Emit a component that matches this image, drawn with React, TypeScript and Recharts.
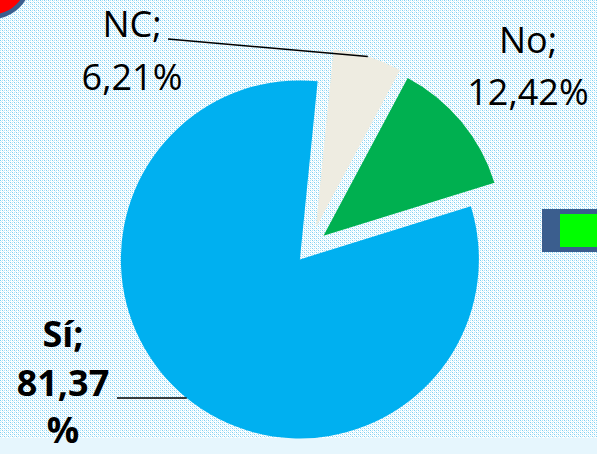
import { PieChart, Pie, Cell } from "recharts";

const categories = ["Sí", "No", "NC"];
const percentages = [81.37, 12.42, 6.21];
const sliceColors = ["#00b0f0", "#00b050", "#eeece1"];

const W = 597;
const H = 454;
const CX = 310;
const CY = 247;
const RADIUS = 179;
const START = 84.3;
const RAD = Math.PI / 180;

// how far each slice is pulled out of the pie
const explode = [16, 17.5, 20];

// label placement: text centre, baselines, optional leader line start
const labelLayout = [
  { x: 63, ys: [347, 396, 443], bold: true, splitPercent: true, from: [117, 398] },
  { x: 528, ys: [53, 105], bold: false, splitPercent: false, from: null },
  { x: 132, ys: [37, 90], bold: false, splitPercent: false, from: [168, 39] },
];

const data = categories.map((name, i) => ({ name, value: percentages[i] }));
const total = percentages.reduce((a, b) => a + b, 0);

const midAngles: number[] = [];
{
  let acc = START;
  percentages.forEach((v) => {
    const span = (v / total) * 360;
    midAngles.push(acc + span / 2);
    acc += span;
  });
}

const fmt = (v: number) => v.toFixed(2).replace(".", ",");

function makeLabel(k: number) {
  return (props: any) => {
    if (props.index !== k) return null;
    const lay = labelLayout[k];
    const lines = lay.splitPercent
      ? [`${props.name};`, fmt(props.value), "%"]
      : [`${props.name};`, `${fmt(props.value)}%`];
    const ex = props.cx + props.outerRadius * Math.cos(-props.midAngle * RAD);
    const ey = props.cy + props.outerRadius * Math.sin(-props.midAngle * RAD);
    return (
      <g>
        {lay.from && (
          <line
            x1={lay.from[0]}
            y1={lay.from[1]}
            x2={ex}
            y2={ey}
            stroke="#000"
            strokeWidth={1.4}
          />
        )}
        {lines.map((t, j) => (
          <text
            key={j}
            x={lay.x}
            y={lay.ys[j]}
            textAnchor="middle"
            fontFamily="'Open Sans', sans-serif"
            fontSize={36}
            fontWeight={lay.bold ? 700 : 400}
            fill="#000"
          >
            {t}
          </text>
        ))}
      </g>
    );
  };
}

function Background() {
  return (
    <svg width={W} height={H} style={{ position: "absolute", left: 0, top: 0 }}>
      <defs>
        <pattern id="dots" width={4} height={4} patternUnits="userSpaceOnUse">
          <rect width={4} height={4} fill="#fff" />
          <rect x={0} y={0} width={1} height={1} fill="#7dd0f2" />
          <rect x={2} y={0} width={1} height={1} fill="#b3e4f8" />
          <rect x={1} y={1} width={1} height={1} fill="#d6f1fc" />
          <rect x={0} y={2} width={1} height={1} fill="#b3e4f8" />
          <rect x={2} y={2} width={1} height={1} fill="#7dd0f2" />
          <rect x={3} y={3} width={1} height={1} fill="#d6f1fc" />
        </pattern>
      </defs>
      <rect width={W} height={438} fill="url(#dots)" />
      <rect y={438} width={W} height={H - 438} fill="#e6f6fd" />
      <circle cx={-8} cy={-20} r={36.7} fill="#ff0000" stroke="#3b5e8e" strokeWidth={4.5} />
    </svg>
  );
}

export default function App() {
  return (
    <div
      style={{
        position: "fixed",
        left: 0,
        top: 0,
        width: W,
        height: H,
        overflow: "hidden",
        background: "#fff",
      }}
    >
      <Background />
      <div
        style={{
          position: "absolute",
          left: 542,
          top: 209,
          width: 70,
          height: 43,
          background: "#3b5e8e",
        }}
      >
        <div
          style={{
            position: "absolute",
            left: 18,
            top: 5,
            width: 60,
            height: 33,
            background: "#00ff00",
          }}
        />
      </div>
      <div style={{ position: "absolute", left: 0, top: 0 }}>
        <PieChart width={W} height={H} margin={{ top: 0, right: 0, bottom: 0, left: 0 }}>
          {categories.map((_, k) => {
            const dx = explode[k] * Math.cos(midAngles[k] * RAD);
            const dy = -explode[k] * Math.sin(midAngles[k] * RAD);
            return (
              <Pie
                key={k}
                data={data}
                dataKey="value"
                nameKey="name"
                cx={CX + dx}
                cy={CY + dy}
                outerRadius={RADIUS}
                startAngle={START}
                endAngle={START + 360}
                stroke="none"
                isAnimationActive={false}
                labelLine={false}
                label={makeLabel(k)}
              >
                {data.map((_, i) => (
                  <Cell key={i} fill={i === k ? sliceColors[i] : "none"} stroke="none" />
                ))}
              </Pie>
            );
          })}
        </PieChart>
      </div>
    </div>
  );
}
